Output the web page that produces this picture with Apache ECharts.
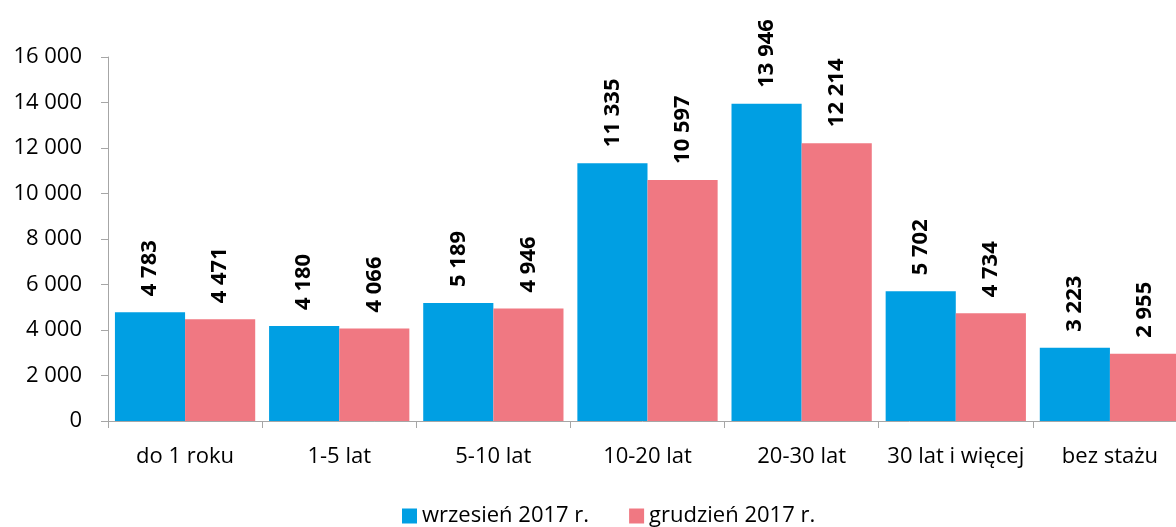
<!DOCTYPE html>
<html>
<head>
<meta charset="utf-8">
<script src="https://cdn.jsdelivr.net/npm/echarts@6/dist/echarts.min.js"></script>
<style>
  html, body { margin: 0; padding: 0; background: #fff; }
  #chart { width: 1176px; height: 527px; }
</style>
</head>
<body>
<div id="chart"></div>
<script>
// dane z wykresu
var categories = ['do 1 roku', '1-5 lat', '5-10 lat', '10-20 lat', '20-30 lat', '30 lat i więcej', 'bez stażu']
var seriesNames = ['wrzesień 2017 r.', 'grudzień 2017 r.']
var wrzesien = [4783, 4180, 5189, 11335, 13946, 5702, 3223]
var grudzien = [4471, 4066, 4946, 10597, 12214, 4734, 2955]
var yTicks = [0, 2000, 4000, 6000, 8000, 10000, 12000, 14000, 16000]

var FONT = '"Open Sans", "Noto Sans", sans-serif'

function fmt (v) {
  return String(v).replace(/\B(?=(\d{3})+(?!\d))/g, ' ')
}

var chart = echarts.init(document.getElementById('chart'))

var barLabel = {
  show: true,
  position: 'top',
  rotate: 90,
  align: 'left',
  verticalAlign: 'middle',
  distance: 16,
  color: '#000',
  fontWeight: 'bold',
  fontSize: 22,
  fontFamily: FONT,
  formatter: function (p) { return fmt(p.value) }
}

chart.setOption({
  animation: false,
  color: ['#009FE3', '#F07882'],
  grid: {
    left: 108,
    top: 57,
    width: 1079, // wykres wychodzi poza prawa krawedz
    bottom: 106,
    containLabel: false,
    outerBoundsMode: 'none'
  },
  legend: {
    top: 500,
    left: 397,
    itemWidth: 15,
    itemHeight: 15,
    itemGap: 40,
    icon: 'rect',
    textStyle: { fontSize: 22, fontFamily: FONT, color: '#000' },
    data: seriesNames
  },
  xAxis: {
    type: 'category',
    data: categories,
    axisLine: { lineStyle: { color: '#A6A6A6' } },
    axisTick: { show: true, length: 7, lineStyle: { color: '#A6A6A6' } },
    axisLabel: { interval: 0, fontSize: 22, fontFamily: FONT, color: '#000', margin: 25 }
  },
  yAxis: {
    type: 'value',
    min: yTicks[0],
    max: yTicks[yTicks.length - 1],
    interval: 2000,
    axisLine: { show: true, lineStyle: { color: '#A6A6A6' } },
    axisTick: { show: true, length: 7, lineStyle: { color: '#A6A6A6' } },
    splitLine: { show: false },
    axisLabel: {
      fontSize: 22,
      fontFamily: FONT,
      color: '#000',
      margin: 26,
      formatter: function (v) { return fmt(v) }
    }
  },
  series: [
    {
      name: seriesNames[0],
      type: 'bar',
      data: wrzesien,
      barGap: '0%',
      barCategoryGap: '9%',
      label: barLabel
    },
    {
      name: seriesNames[1],
      type: 'bar',
      data: grudzien,
      barGap: '0%',
      barCategoryGap: '9%',
      label: barLabel
    }
  ]
})
</script>
</body>
</html>
